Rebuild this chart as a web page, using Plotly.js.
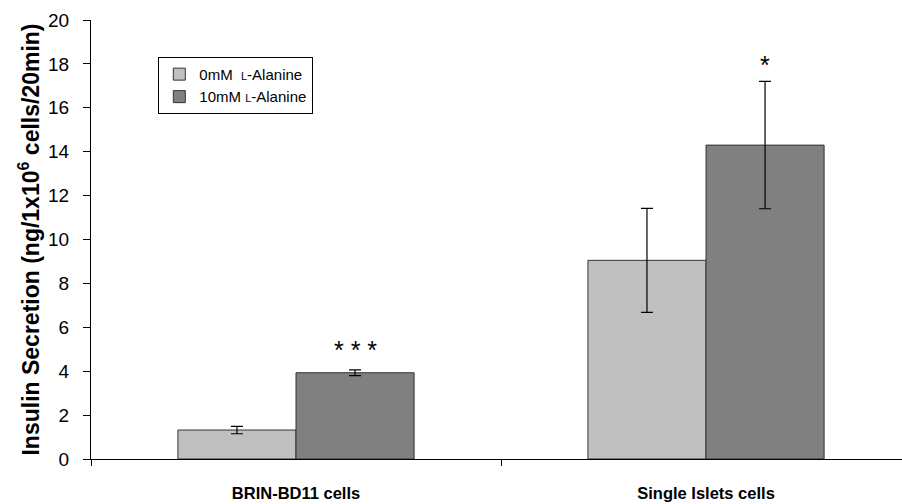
<!DOCTYPE html>
<html>
<head>
<meta charset="utf-8">
<script src="https://cdn.plot.ly/plotly-3.0.1.min.js"></script>
<style>html,body{margin:0;padding:0;background:#fff;}#chart{width:902px;height:504px;}</style>
</head>
<body>
<div id="chart"></div>
<script>
const categories = ["BRIN-BD11 cells", "Single Islets cells"];
const seriesNames = ["0mM  <span style='font-size:11px'>L</span>-Alanine", "10mM <span style='font-size:11px'>L</span>-Alanine"];
const control = [1.32, 9.05];
const controlErr = [0.17, 2.37];
const alanine = [3.93, 14.3];
const alanineErr = [0.13, 2.9];
const significance = ["* * *", "*"];

const traces = [
  {type:'bar', name: seriesNames[0], x: categories, y: control,
   marker:{color:'#C0C0C0', line:{color:'#333333', width:1}},
   error_y:{type:'data', array: controlErr, visible:true, color:'#000', thickness:1.2, width:6}},
  {type:'bar', name: seriesNames[1], x: categories, y: alanine,
   marker:{color:'#808080', line:{color:'#333333', width:1}},
   error_y:{type:'data', array: alanineErr, visible:true, color:'#000', thickness:1.2, width:6}}
];

const bargap = 0.424;
const barW = (1 - bargap) / 2;
const annotations = significance.map((s, i) => ({
  x: i + barW / 2, y: alanine[i] + alanineErr[i], xref:'x', yref:'y',
  text: s, showarrow:false, yanchor:'bottom', yshift: i === 0 ? 4 : 0,
  font:{family:'Liberation Sans, Arial, sans-serif', size:25, color:'#000'}
}));

const layout = {
  width: 902, height: 504,
  margin:{l:91, r:0, t:20, b:45},
  paper_bgcolor:'#fff', plot_bgcolor:'#fff',
  font:{family:'Liberation Sans, Arial, sans-serif', color:'#000'},
  barmode:'group', bargap: bargap, bargroupgap: 0,
  showlegend:true,
  legend:{x:0.083, y:0.916, xanchor:'left', yanchor:'top', bordercolor:'#000', borderwidth:1,
          bgcolor:'#fff', font:{size:15}, itemwidth:30, tracegroupgap:0},
  xaxis:{type:'category', range:[-0.5, 1.478], showline:true, linecolor:'#000', linewidth:1,
         ticks:'outside', tickson:'boundaries', ticklen:6, tickcolor:'#000',
         showgrid:false, zeroline:false, ticklabelstandoff:19,
         tickfont:{size:16.5, weight:'bold'}},
  yaxis:{range:[0,20], dtick:2, showline:true, linecolor:'#000', linewidth:1,
         ticks:'outside', ticklen:7, tickcolor:'#000', showgrid:false, zeroline:false,
         ticklabelstandoff:10,
         tickfont:{size:19},
         title:{text:"Insulin Secretion (ng/1x10<sup>6</sup> cells/20min)", standoff:2,
                font:{size:23, weight:'bold'}}},
  annotations: annotations
};
Plotly.newPlot('chart', traces, layout, {displayModeBar:false, staticPlot:true});
</script>
</body>
</html>
